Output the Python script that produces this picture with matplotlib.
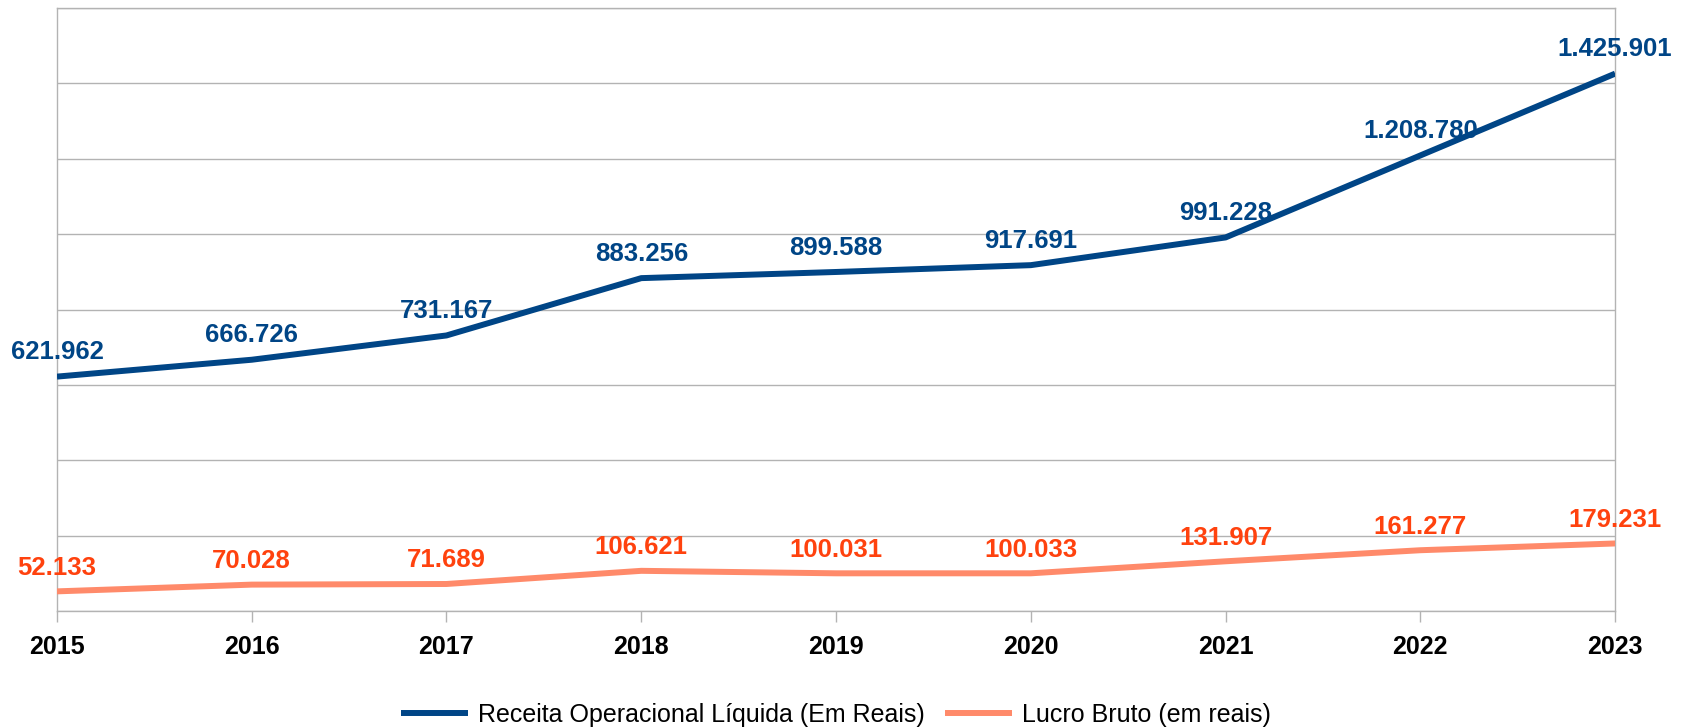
import numpy as np
import matplotlib
matplotlib.use("Agg")
import matplotlib.pyplot as plt

plt.rcParams['font.family'] = ['Liberation Sans', 'DejaVu Sans']

years = ['2015', '2016', '2017', '2018', '2019', '2020', '2021', '2022', '2023']
receita = [621962, 666726, 731167, 883256, 899588, 917691, 991228, 1208780, 1425901]
lucro = [52133, 70028, 71689, 106621, 100031, 100033, 131907, 161277, 179231]

serie_names = ['Receita Operacional Líquida (Em Reais)', 'Lucro Bruto (em reais)']


def fmt_br(v):
    return f"{v:,}".replace(",", ".")


fig = plt.figure(figsize=(16.9, 7.28), dpi=100)
ax = fig.add_axes([0.0337, 0.1607, 0.922, 0.8283])

x = np.arange(len(years))
grid_c = '#b3b3b3'

ax.plot(x, receita, color='#004586', lw=4.3, solid_capstyle='butt', label=serie_names[0], zorder=3)
ax.plot(x, lucro, color='#ff8a6a', lw=4.3, solid_capstyle='butt', label=serie_names[1], zorder=3)

for xi, v in zip(x, receita):
    ax.annotate(fmt_br(v), (xi, v), xytext=(0, 17.5), textcoords='offset points',
                ha='center', va='center', fontsize=18.5, fontweight='bold', color='#004586', zorder=4)
for xi, v in zip(x, lucro):
    ax.annotate(fmt_br(v), (xi, v), xytext=(0, 17), textcoords='offset points',
                ha='center', va='center', fontsize=18.5, fontweight='bold', color='#ff420e', zorder=4)

ax.set_xlim(0, len(years) - 1)
ax.set_ylim(0, 1600000)
ax.set_yticks(np.arange(0, 1600001, 200000))
ax.yaxis.grid(True, color=grid_c, lw=1)
ax.tick_params(axis='y', left=False, labelleft=False)
ax.set_xticks(x)
ax.set_xticklabels(years, fontsize=18, fontweight='bold')
ax.tick_params(axis='x', direction='out', length=8, color=grid_c, width=1, pad=9)
for s in ax.spines.values():
    s.set_color(grid_c)
    s.set_linewidth(1)
ax.set_axisbelow(True)

ax.legend(loc='center', bbox_to_anchor=(0.5, -0.172), ncol=2, frameon=False,
          fontsize=18, handlelength=2.7, columnspacing=0.8, handletextpad=0.4)

fig.savefig('out.png', dpi=100)
